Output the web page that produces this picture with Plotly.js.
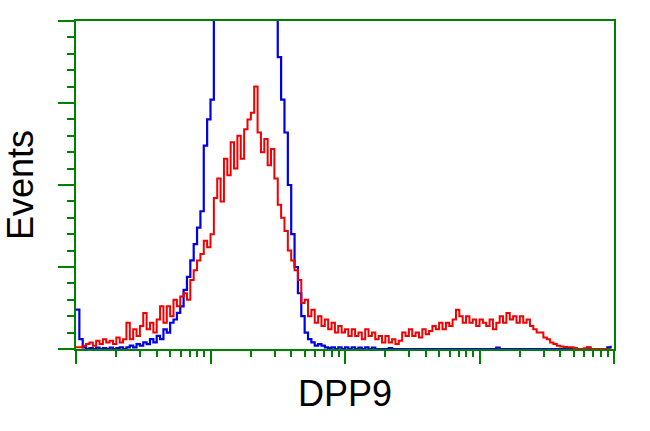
<!DOCTYPE html>
<html>
<head>
<meta charset="utf-8">
<script src="https://cdn.plot.ly/plotly-3.0.1.min.js"></script>
<style>html,body{margin:0;padding:0;background:#fff;}#chart{width:650px;height:431px;}</style>
</head>
<body>
<div id="chart"></div>
<script>
// Histogram channels: 160 channels spanning 4 decades (1 .. 10^4)
const channelsPerDecade = 40;

// Isotype control (blue) counts per channel
const blueCounts = [
  12, 3, 0.5, 0, 0.3, 0, 0.4, 0, 0.3, 0,
  0.4, 0, 0.3, 0.5, 0, 0.5, 1, 0.5, 1.5, 1,
  2, 1.5, 3, 2, 4, 3, 6, 5, 8, 9,
  11, 13, 18, 22, 27, 32, 37, 42, 62, 70,
  76, 140, 160, 185, 205, 220, 232, 240, 244, 242,
  236, 226, 214, 200, 186, 170, 155, 140, 128, 120,
  89, 76, 66, 50, 35, 25, 17, 10, 5, 3,
  2, 1, 1.5, 1, 0.5, 0.3, 0.5, 0, 0.5, 0,
  0.5, 0, 0.5, 0, 0.4, 0, 0.5, 0, 0.4, 0,
  0, 0, 0, 0.3, 0, 0, 0, 0, 0, 0,
  0, 0, 0, 0, 0, 0, 0, 0, 0, 0,
  0, 0, 0, 0, 0, 0, 0, 0, 0, 0,
  0, 0, 0, 0, 0, 0.4, 0, 0, 0, 0,
  0, 0, 0, 0, 0, 0, 0, 0, 0, 0,
  0, 0, 0, 0, 0, 0, 0, 0, 0, 0,
  0, 0, 0.4, 0, 0, 0, 0, 0, 0.5, 1
];

// DPP9 transfected (red) counts per channel
const redCounts = [
  0.5, 0.5, 1, 1.5, 2, 1, 2.5, 1.5, 3, 2,
  2.5, 1.5, 3.5, 2, 3, 8, 3, 6, 4, 7,
  11, 6, 8, 5, 9, 13, 8, 13, 10, 15,
  13, 16, 17, 15, 21, 24, 27, 29, 33, 31,
  35, 46, 52, 45, 58, 53, 63, 55, 65, 58,
  67, 70, 72, 80, 66, 60, 64, 56, 61, 52,
  44, 40, 36, 30, 27, 24, 21, 14, 15, 10,
  12, 8, 10, 7, 9, 6, 8, 5, 7, 5,
  6, 4, 6, 4, 5, 3, 6, 4, 5, 3,
  4, 2, 4, 2, 3, 1.5, 2.5, 5, 4, 6,
  4, 5, 3.5, 6, 4.5, 5.5, 7, 6, 8, 6,
  8, 7, 9, 12, 10, 8, 10, 8, 9, 7,
  9, 8, 7, 9, 6, 8, 10, 8, 11, 9,
  10, 8, 10, 8, 9, 7, 6, 5, 5, 3.5,
  3, 2, 1.5, 1, 0.8, 0.6, 0.5, 0.5, 0.3, 0,
  0, 0.2, 0.5, 0, 0, 0, 0, 0, 0, 0
];

const channelX = blueCounts.map((_, i) => Math.pow(10, i / channelsPerDecade));

const majorX = [1, 10, 100, 1000, 10000];
const minorX = [];
[1, 10, 100, 1000].forEach(d => { for (let k = 2; k <= 9; k++) minorX.push(k * d); });

const green = 'rgb(0,128,0)';

const traces = [
  {
    x: channelX, y: blueCounts, type: 'scatter', mode: 'lines',
    line: {shape: 'hv', color: 'rgb(0,0,230)', width: 2.2},
    hoverinfo: 'skip', showlegend: false
  },
  {
    x: channelX, y: redCounts, type: 'scatter', mode: 'lines',
    line: {shape: 'hv', color: 'rgb(240,0,0)', width: 2},
    hoverinfo: 'skip', showlegend: false
  }
];

const layout = {
  width: 650, height: 431,
  margin: {l: 76, r: 36, t: 21, b: 82},
  paper_bgcolor: '#ffffff', plot_bgcolor: '#ffffff',
  font: {family: 'Liberation Sans, Arial, sans-serif', color: '#000'},
  showlegend: false,
  xaxis: {
    type: 'log', range: [0, 4], fixedrange: true,
    showgrid: false, zeroline: false,
    showline: true, mirror: true, linecolor: green, linewidth: 2,
    tickmode: 'array', tickvals: majorX, showticklabels: false,
    ticks: 'outside', ticklen: 13, tickwidth: 2, tickcolor: green,
    minor: {tickmode: 'array', tickvals: minorX, ticks: 'outside', ticklen: 6, tickwidth: 2, tickcolor: green, showgrid: false},
    title: {text: 'DPP9', font: {size: 36, family: 'Liberation Sans, Arial, sans-serif', color: '#000'}, standoff: 18},
    automargin: false
  },
  yaxis: {
    range: [0, 100], fixedrange: true,
    showgrid: false, zeroline: false,
    showline: true, mirror: true, linecolor: green, linewidth: 2,
    tickmode: 'linear', tick0: 0, dtick: 25, showticklabels: false,
    ticks: 'outside', ticklen: 16, tickwidth: 2, tickcolor: green,
    minor: {tickmode: 'linear', tick0: 0, dtick: 5, ticks: 'outside', ticklen: 7, tickwidth: 2, tickcolor: green, showgrid: false},
    title: {text: 'Events', font: {size: 36, family: 'Liberation Sans, Arial, sans-serif', color: '#000'}, standoff: 13},
    automargin: false
  }
};

Plotly.newPlot('chart', traces, layout, {staticPlot: true, displayModeBar: false});
</script>
</body>
</html>
